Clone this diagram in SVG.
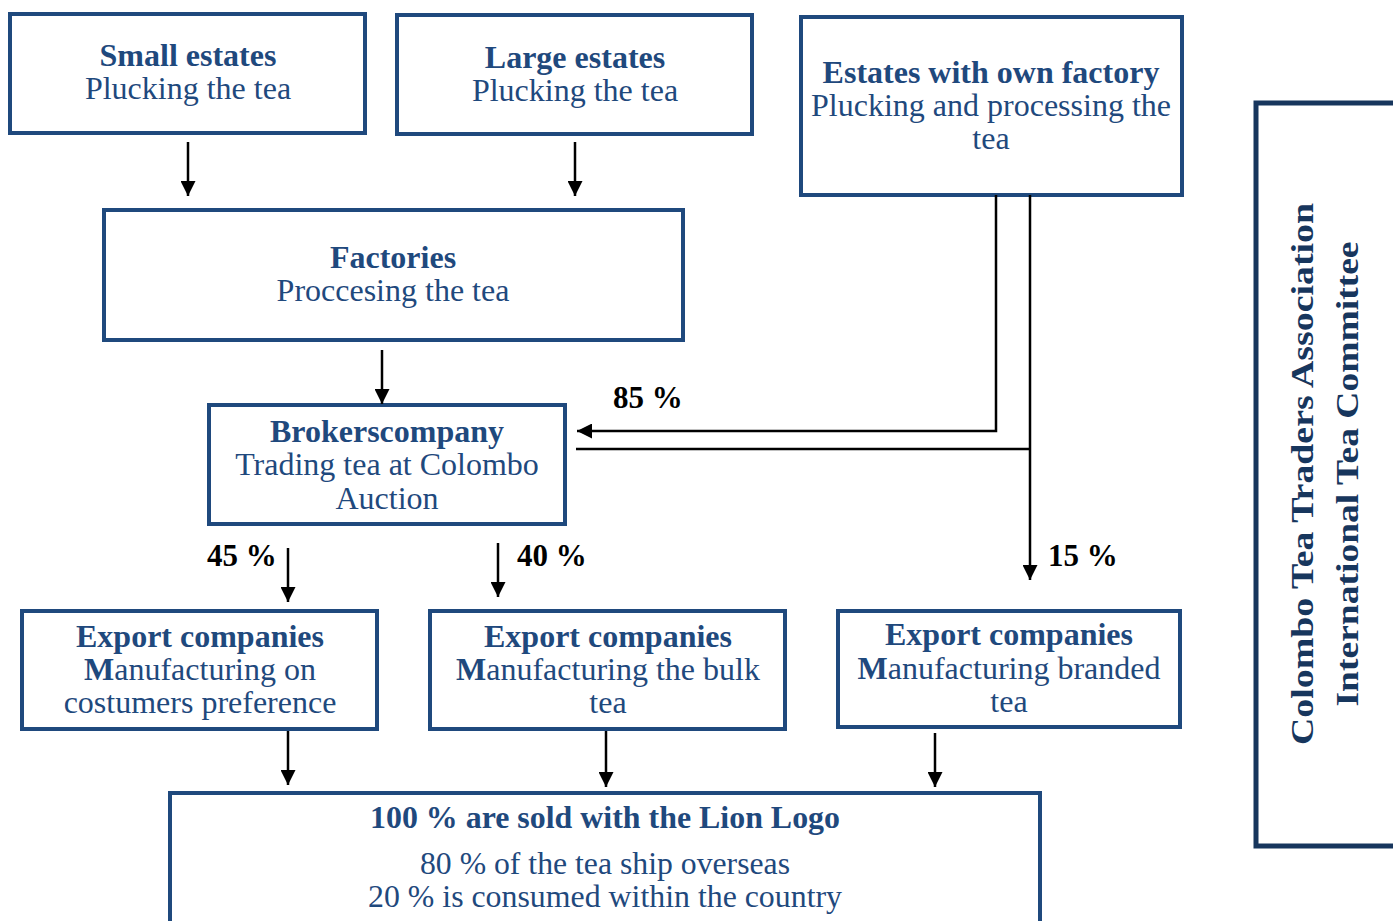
<svg xmlns="http://www.w3.org/2000/svg" width="1393" height="921" viewBox="0 0 1393 921">
  <style>
    .box { fill: #ffffff; stroke: #1f497d; stroke-width: 4; }
    .t { font-family: "Liberation Serif", serif; font-size: 32px; fill: #1f497d; text-anchor: middle; }
    .b { font-weight: bold; }
    .side { fill: #17365d; }
    .wire { fill: none; stroke: #000000; stroke-width: 2.5; }
    .pct { font-family: "Liberation Serif", serif; font-size: 31px; font-weight: bold; fill: #000000; }
  </style>
  <defs>
    <marker id="arrow" viewBox="0 0 10 10" refX="10" refY="5" markerWidth="6" markerHeight="6" markerUnits="strokeWidth" orient="auto">
      <path d="M0,0 L10,5 L0,10 z" fill="#000000"/>
    </marker>
  </defs>
  <rect width="1393" height="921" fill="#ffffff"/>

  <g id="small-estates">
    <rect class="box" x="10" y="14" width="355" height="119"/>
    <text class="t b" x="188" y="66">Small estates</text>
    <text class="t" x="188" y="99">Plucking the tea</text>
  </g>

  <g id="large-estates">
    <rect class="box" x="397" y="15" width="355" height="119"/>
    <text class="t b" x="575" y="68">Large estates</text>
    <text class="t" x="575" y="101">Plucking the tea</text>
  </g>

  <g id="own-factory">
    <rect class="box" x="801" y="17" width="381" height="178"/>
    <text class="t b" x="991" y="83">Estates with own factory</text>
    <text class="t" x="991" y="116">Plucking and processing the</text>
    <text class="t" x="991" y="149">tea</text>
  </g>

  <g id="factories">
    <rect class="box" x="104" y="210" width="579" height="130"/>
    <text class="t b" x="393" y="268">Factories</text>
    <text class="t" x="393" y="301">Proccesing the tea</text>
  </g>

  <g id="broker">
    <rect class="box" x="209" y="405" width="356" height="119"/>
    <text class="t b" x="387" y="442">Brokerscompany</text>
    <text class="t" x="387" y="475">Trading tea at Colombo</text>
    <text class="t" x="387" y="509">Auction</text>
  </g>

  <g id="export-preference">
    <rect class="box" x="22" y="611" width="355" height="118"/>
    <text class="t b" x="200" y="647">Export companies</text>
    <text class="t" x="200" y="680"><tspan class="b">M</tspan>anufacturing on</text>
    <text class="t" x="200" y="713">costumers preference</text>
  </g>

  <g id="export-bulk">
    <rect class="box" x="430" y="611" width="355" height="118"/>
    <text class="t b" x="608" y="647">Export companies</text>
    <text class="t" x="608" y="680"><tspan class="b">M</tspan>anufacturing the bulk</text>
    <text class="t" x="608" y="713">tea</text>
  </g>

  <g id="export-branded">
    <rect class="box" x="838" y="611" width="342" height="116"/>
    <text class="t b" x="1009" y="645">Export companies</text>
    <text class="t" x="1009" y="679"><tspan class="b">M</tspan>anufacturing branded</text>
    <text class="t" x="1009" y="712">tea</text>
  </g>

  <g id="lion-logo">
    <rect class="box" x="170" y="793" width="870" height="160"/>
    <text class="t b" x="605" y="828" textLength="470" lengthAdjust="spacingAndGlyphs">100 % are sold with the Lion Logo</text>
    <text class="t" x="605" y="874" textLength="370" lengthAdjust="spacingAndGlyphs">80 % of the tea ship overseas</text>
    <text class="t" x="605" y="907" textLength="474" lengthAdjust="spacingAndGlyphs">20 % is consumed within the country</text>
  </g>

  <g id="associations">
    <rect x="1256" y="103" width="200" height="743" fill="#ffffff" stroke="#17365d" stroke-width="5"/>
    <text class="t b side" transform="translate(1313,474) rotate(-90)" textLength="542" lengthAdjust="spacingAndGlyphs">Colombo Tea Traders Association</text>
    <text class="t b side" transform="translate(1358,474) rotate(-90)" textLength="465" lengthAdjust="spacingAndGlyphs">International Tea Committee</text>
  </g>

  <g id="connectors">
    <line class="wire" x1="188" y1="142" x2="188" y2="196" marker-end="url(#arrow)"/>
    <line class="wire" x1="575" y1="142" x2="575" y2="196" marker-end="url(#arrow)"/>
    <line class="wire" x1="382" y1="350" x2="382" y2="404" marker-end="url(#arrow)"/>
    <polyline class="wire" points="996,195 996,431 577,431" marker-end="url(#arrow)"/>
    <line class="wire" x1="1030" y1="195" x2="1030" y2="580" marker-end="url(#arrow)"/>
    <line class="wire" x1="576" y1="449" x2="1030" y2="449"/>
    <line class="wire" x1="288" y1="548" x2="288" y2="602" marker-end="url(#arrow)"/>
    <line class="wire" x1="498" y1="543" x2="498" y2="597" marker-end="url(#arrow)"/>
    <line class="wire" x1="288" y1="731" x2="288" y2="785" marker-end="url(#arrow)"/>
    <line class="wire" x1="606" y1="731" x2="606" y2="787" marker-end="url(#arrow)"/>
    <line class="wire" x1="935" y1="733" x2="935" y2="787" marker-end="url(#arrow)"/>
  </g>

  <g id="shares">
    <text class="pct" x="613" y="408">85 %</text>
    <text class="pct" x="207" y="566">45 %</text>
    <text class="pct" x="517" y="566">40 %</text>
    <text class="pct" x="1048" y="566">15 %</text>
  </g>
</svg>
